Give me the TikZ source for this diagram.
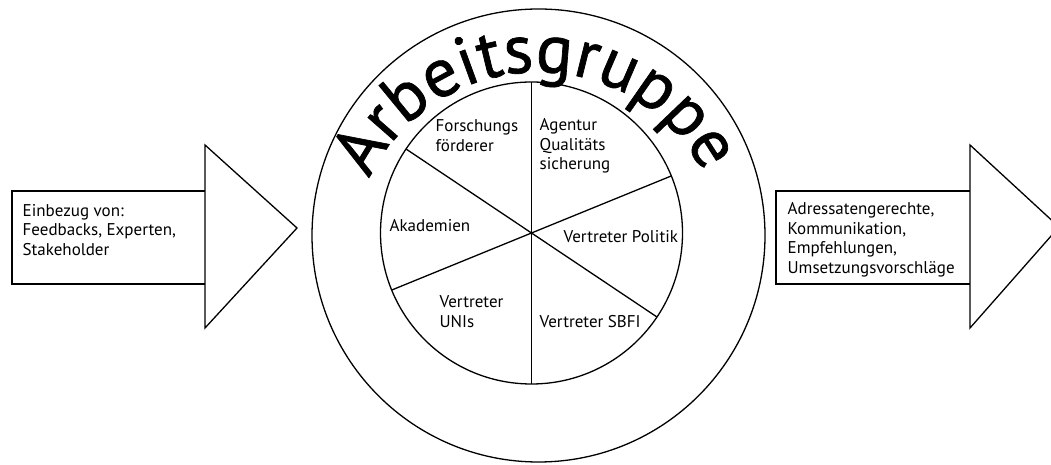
\documentclass[tikz,border=0pt]{standalone}
\usepackage{fontspec}
\setmainfont{PT Sans}
\usetikzlibrary{decorations.text}

\newcommand{\ringfont}{\fontsize{69}{72}\selectfont\addfontfeature{FakeBold=1}}
\newcommand{\partfont}{\fontsize{17}{19.5}\selectfont}

\begin{document}
\begin{tikzpicture}[x=1pt, y=1pt, line width=1.3pt,
    sector/.style={font=\partfont, align=left, inner sep=0pt, anchor=base west}]
  \clip (0,0) rectangle (1051,465);
  \fill[white] (0,0) rectangle (1051,465);

  % Circles
  \coordinate (ctr) at (531.5,232);
  \coordinate (rim) at (538.5,229.5);
  \coordinate (ring) at (538,207);
  \draw (rim) circle[radius=226.5];
  \draw (ctr) circle[radius=151];

  % Spokes
  \foreach \a in {90,146.2,22.2}
    \draw (ctr) +(\a:151) -- +(\a+180:151);

  % Title along the ring
  \path[decorate, decoration={text along path, text align=center,
      text={|\ringfont|Arbeitsgruppe}}]
    (ring) ++(181:186) arc[start angle=181, end angle=1, radius=186];

  % Input arrow (base = last line)
  \draw (205,274) -- (12,274) -- (12,181) -- (205,181);
  \draw (205,137) -- (205,320) -- (297,237) -- cycle;
  \node[sector] (input) at (22,209.5) {Einbezug von:\\Feedbacks, Experten,\\Stakeholder};

  % Output arrow
  \draw (970,274) -- (776,274) -- (776,181) -- (970,181);
  \draw (970,137) -- (970,320) -- (1059,238) -- cycle;
  \node[sector] (output) at (787,191.5) {Adressatengerechte,\\Kommunikation,\\Empfehlungen,\\Umsetzungsvorschläge};

  % Sectors
  \node[sector] (foerder) at (435,313.5) {Forschungs\\förderer};
  \node[sector] (agentur) at (539,295) {Agentur\\Qualitäts\\sicherung};
  \node[sector] (akad) at (389,233) {Akademien};
  \node[sector] (politik) at (563,222) {Vertreter Politik};
  \node[sector] (unis) at (439,137.5) {Vertreter\\UNIs};
  \node[sector] (sbfi) at (539,137) {Vertreter SBFI};
\end{tikzpicture}
\end{document}
